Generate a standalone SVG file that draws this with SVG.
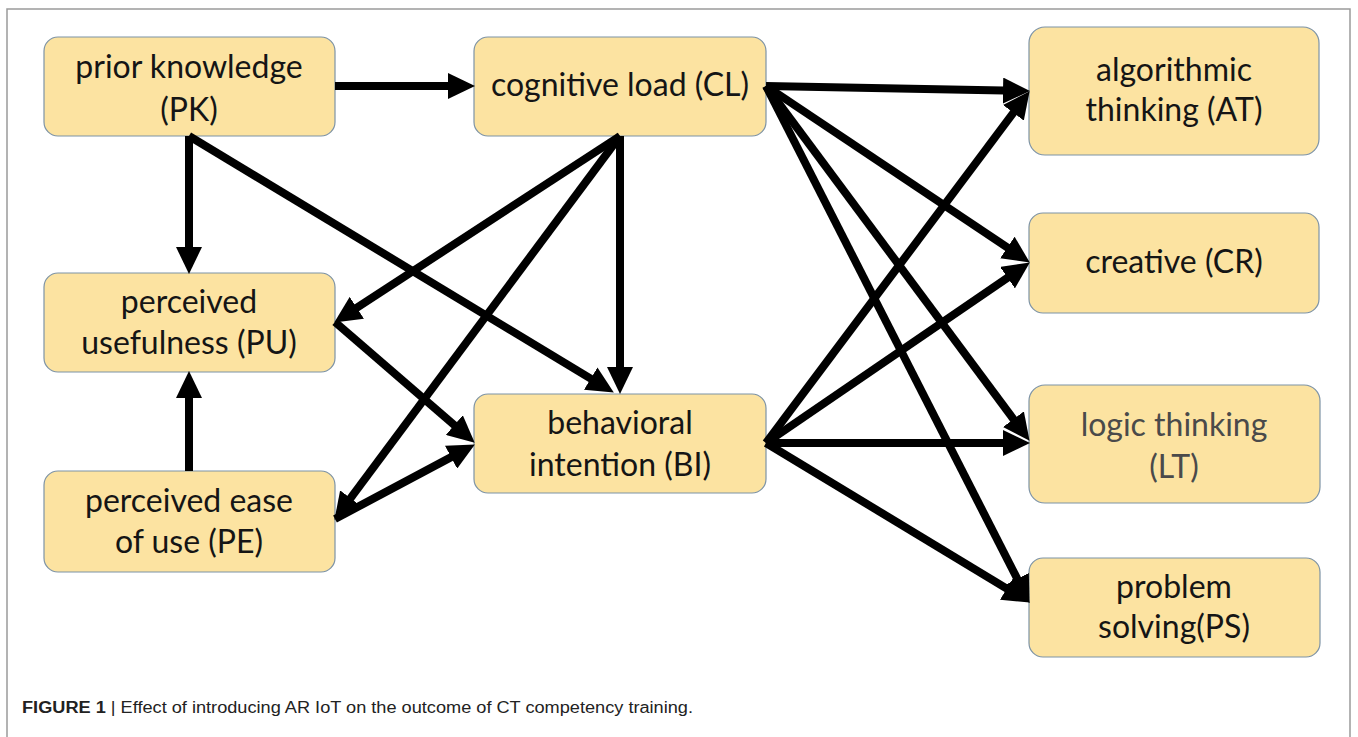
<svg xmlns="http://www.w3.org/2000/svg" width="1358" height="737" viewBox="0 0 1358 737">
<style>
.box{fill:#FCE3A1;stroke:#7D93A6;stroke-width:1.2}
.t{font-family:Lato,"Liberation Sans",sans-serif;font-size:32px;fill:#151515;text-anchor:middle}
.g{fill:#4a4a4a}
.c line{stroke:#000;stroke-width:8;stroke-linecap:butt;marker-end:url(#ah)}
.cap{font-family:"Liberation Sans",Arial,sans-serif;font-size:16px;fill:#222}
</style>
<defs>
<marker id="ah" viewBox="0 0 27 26" refX="14" refY="13" markerWidth="27" markerHeight="26" markerUnits="userSpaceOnUse" orient="auto">
<path d="M0,0 L27,13 L0,26 z" fill="#000"/>
</marker>
</defs>
<rect x="0" y="0" width="1358" height="737" fill="#fff"/>
<rect x="7" y="9" width="1343" height="740" fill="none" stroke="#9a9a9a" stroke-width="1.5"/>
<g id="PK"><rect class="box" x="44" y="37" width="291" height="99" rx="14"/><text class="t" x="189" y="78">prior knowledge</text><text class="t" x="189" y="121">(PK)</text></g>
<g id="CL"><rect class="box" x="474" y="37" width="292" height="99" rx="14"/><text class="t" x="620" y="96">cognitive load (CL)</text></g>
<g id="PU"><rect class="box" x="44" y="273" width="291" height="99" rx="14"/><text class="t" x="189" y="313">perceived</text><text class="t" x="189" y="354">usefulness (PU)</text></g>
<g id="PE"><rect class="box" x="44" y="471" width="291" height="101" rx="14"/><text class="t" x="189" y="512">perceived ease</text><text class="t" x="189" y="553">of use (PE)</text></g>
<g id="BI"><rect class="box" x="474" y="394" width="292" height="99" rx="14"/><text class="t" x="620" y="434">behavioral</text><text class="t" x="620" y="476">intention (BI)</text></g>
<g id="AT"><rect class="box" x="1029" y="27" width="290" height="128" rx="16"/><text class="t" x="1174" y="81">algorithmic</text><text class="t" x="1174" y="121">thinking (AT)</text></g>
<g id="CR"><rect class="box" x="1029" y="213" width="290" height="100" rx="14"/><text class="t" x="1174" y="273">creative (CR)</text></g>
<g id="LT"><rect class="box" x="1029" y="385" width="291" height="118" rx="16"/><text class="t g" x="1174" y="436">logic thinking</text><text class="t g" x="1174" y="478">(LT)</text></g>
<g id="PS"><rect class="box" x="1029" y="558" width="291" height="99" rx="14"/><text class="t" x="1174" y="598">problem</text><text class="t" x="1174" y="638">solving(PS)</text></g>
<g id="connectors" class="c">
<line x1="335" y1="86" x2="462" y2="86"/>
<line x1="189" y1="136" x2="189" y2="261"/>
<line x1="189" y1="136" x2="602.7" y2="385.8"/>
<line x1="620" y1="136" x2="620" y2="381"/>
<line x1="620" y1="136" x2="345.1" y2="315.4"/>
<line x1="620" y1="136" x2="342.2" y2="509.4"/>
<line x1="335" y1="322" x2="464.9" y2="434.2"/>
<line x1="335" y1="519" x2="463.4" y2="450.6"/>
<line x1="189" y1="471" x2="189" y2="384"/>
<line x1="766" y1="86" x2="1017" y2="90.8"/>
<line x1="766" y1="86" x2="1019" y2="255.3"/>
<line x1="766" y1="86" x2="1021.8" y2="430.4"/>
<line x1="766" y1="86" x2="1023.6" y2="591.3"/>
<line x1="766" y1="443" x2="1021.8" y2="101.6"/>
<line x1="766" y1="443" x2="1019.1" y2="269.8"/>
<line x1="766" y1="443" x2="1017" y2="443"/>
<line x1="766" y1="443" x2="1018.7" y2="595.8"/>
</g>
<text class="cap" x="22" y="713" textLength="671" lengthAdjust="spacingAndGlyphs"><tspan font-weight="bold">FIGURE 1</tspan> | Effect of introducing AR IoT on the outcome of CT competency training.</text>
</svg>
